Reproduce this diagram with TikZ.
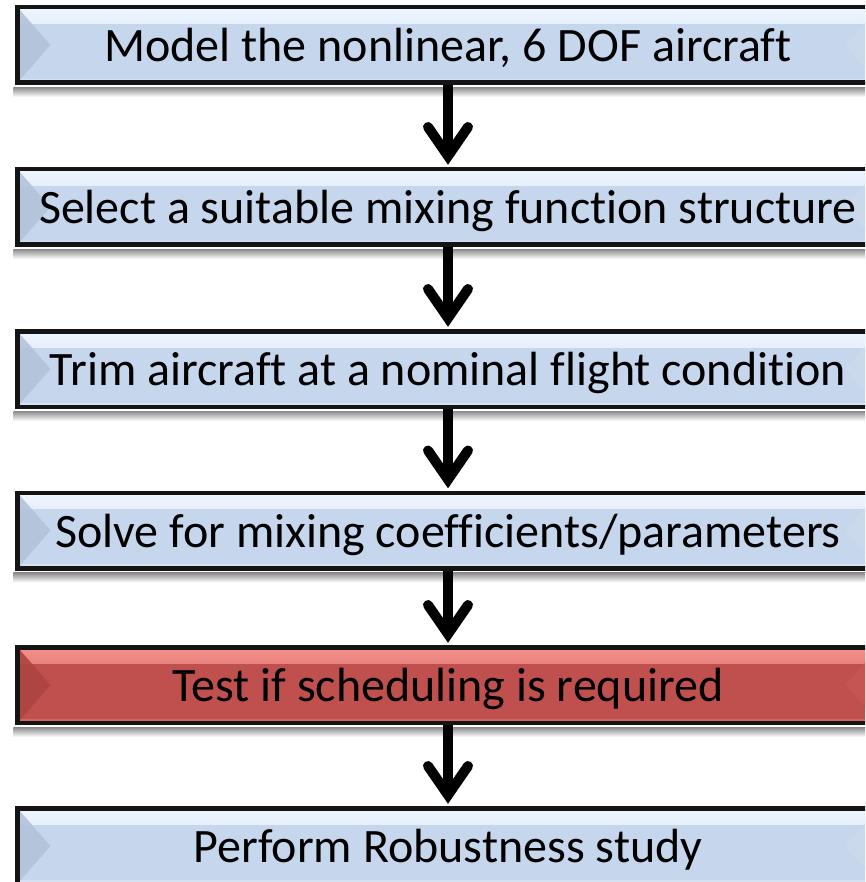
\documentclass[tikz,border=0pt]{standalone}
\usepackage{fontspec}
\setmainfont{Carlito}[Ligatures=NoCommon]
\usetikzlibrary{calc}
\definecolor{bbase}{HTML}{C6D6EC}
\definecolor{bleft}{HTML}{B3C3DA}
\definecolor{bright}{HTML}{CCDAEE}
\definecolor{btop}{HTML}{EEF6FF}
\definecolor{rbase}{HTML}{C0504D}
\definecolor{rleft}{HTML}{AD4441}
\definecolor{rright}{HTML}{C55653}
\definecolor{rtop}{HTML}{F4908B}
\tikzset{
  bevel/.style n args={4}{
    fill=#1,
    path picture={
      \shade[top color=#4, bottom color=#1]
        (path picture bounding box.north west)
        rectangle ($(path picture bounding box.north east)+(0,16)$);
      \fill[#4!60!#1, opacity=0.6] ($(path picture bounding box.south west)+(0,-4)$)
        rectangle (path picture bounding box.south east);
      \fill[#2, opacity=0.9] (path picture bounding box.north west)
        -- ($(path picture bounding box.west)+(33,0)$)
        -- (path picture bounding box.south west) -- cycle;
      \fill[#3, opacity=0.9] (path picture bounding box.north east)
        -- ($(path picture bounding box.east)+(-33,0)$)
        -- (path picture bounding box.south east) -- cycle;
    }},
  boxbase/.style={draw=black!92, line width=4.5pt, minimum width=861pt,
    minimum height=75.5pt, inner sep=0pt, text height=36pt, text depth=3pt,
    font=\fontsize{48}{56}\selectfont},
  bluebox/.style={boxbase, bevel={bbase}{bleft}{bright}{btop}},
  redbox/.style={boxbase, bevel={rbase}{rleft}{rright}{rtop}},
  shaft/.style={line width=10pt, line cap=butt},
  head/.style={line width=10pt, line cap=round, line join=miter},
  shadowstrip/.style={top color=black!45, bottom color=white}
}
\begin{document}
\begin{tikzpicture}[x=1pt, y=-1pt]
\useasboundingbox (0,0) rectangle (865,882);
\clip (0,0) rectangle (865,882);
\node[bluebox] (b1) at (448,45) {Model the nonlinear, 6 DOF aircraft};
\node[bluebox] (b2) at (448,207) {Select a suitable mixing function structure};
\node[bluebox] (b3) at (448,369) {Trim aircraft at a nominal flight condition};
\node[bluebox] (b4) at (448,530.5) {Solve for mixing coefficients/parameters};
\node[redbox]  (b5) at (448,685) {Test if scheduling is required};
\node[bluebox] (b6) at (448,846) {Perform Robustness study};
\foreach \b in {b1,b2,b3,b4,b5}{
  \shade[shadowstrip] ($(\b.south west)+(-2,2.25)$) rectangle ($(\b.south east)+(2,12)$);
}
\foreach \a/\b in {b1/b2,b2/b3,b3/b4,b4/b5,b5/b6}{
  \draw[shaft] (\a.south) -- ($(\b.north)+(0,-11)$);
  \draw[head] ($(\b.north)+(-20,-40)$) -- ($(\b.north)+(0,-11)$) -- ($(\b.north)+(20,-40)$);
}
\end{tikzpicture}
\end{document}
